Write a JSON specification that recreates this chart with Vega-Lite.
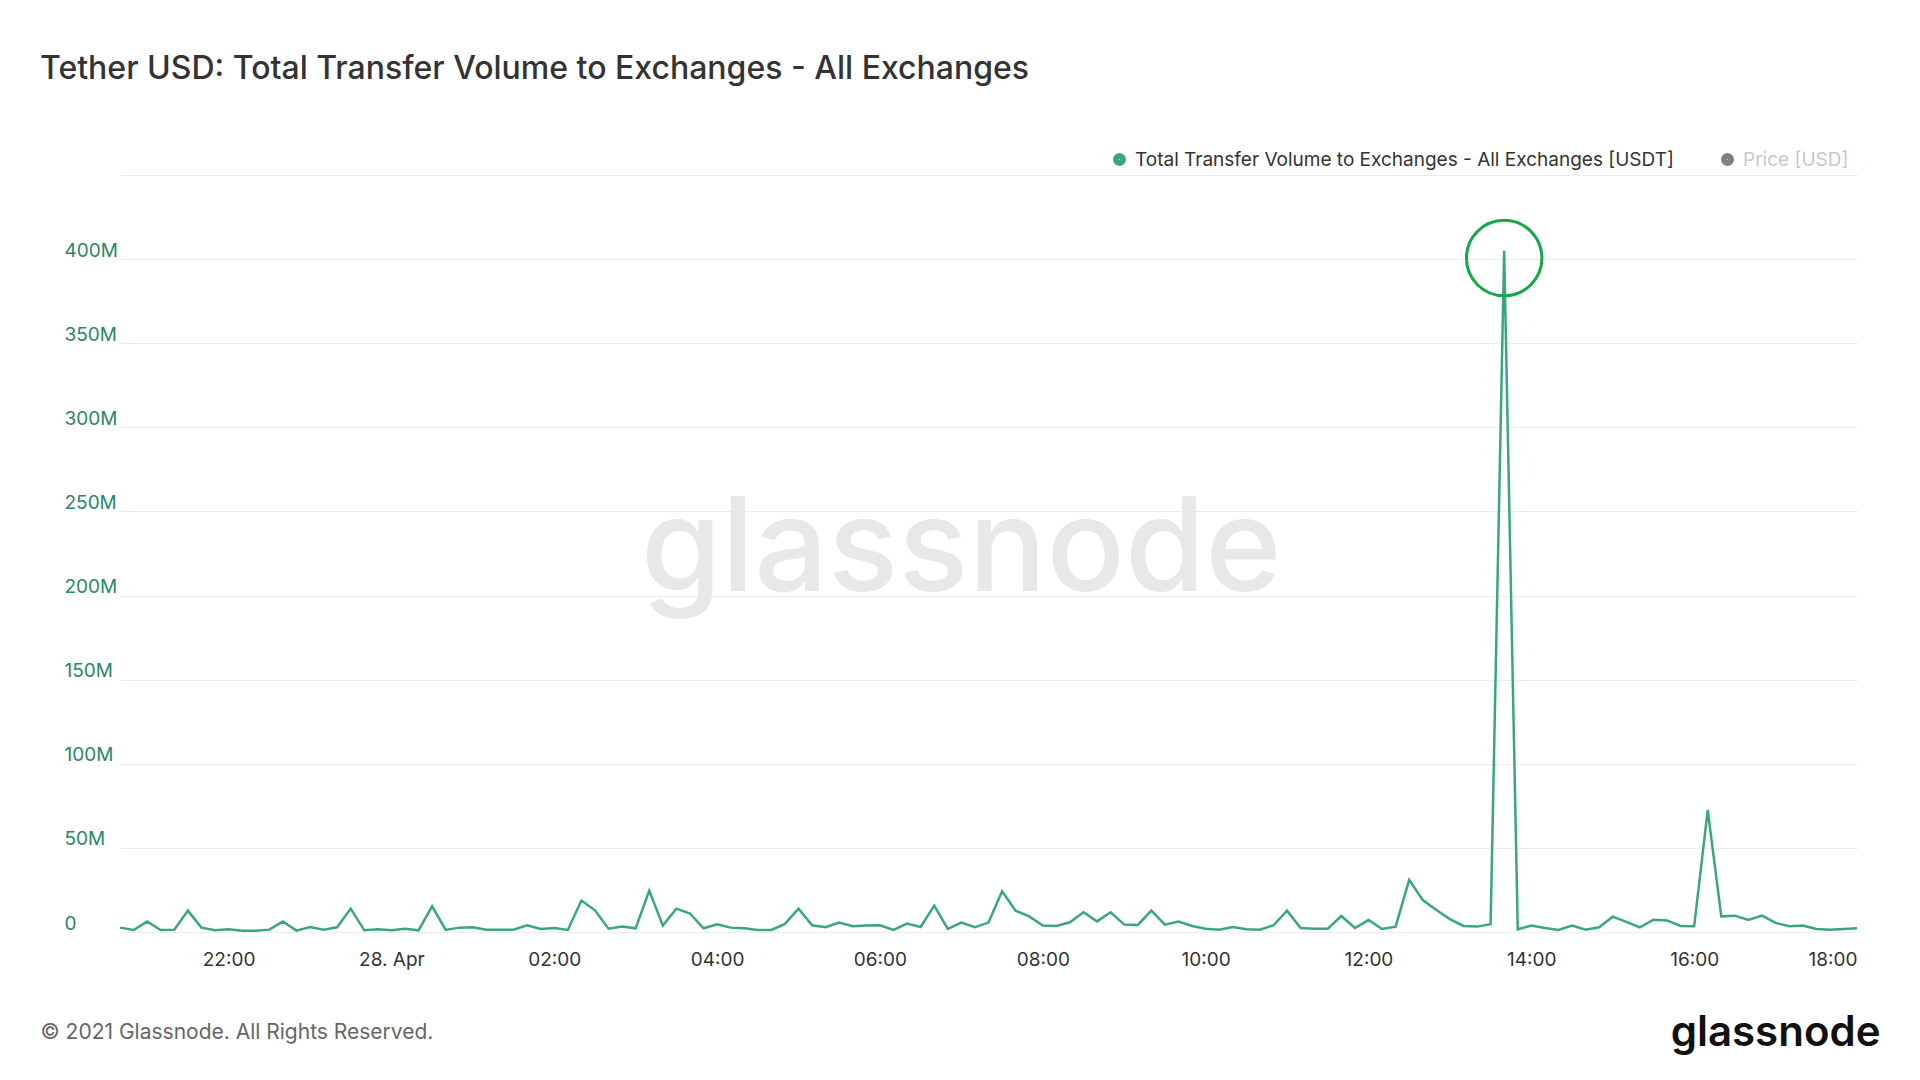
{
  "$schema": "https://vega.github.io/schema/vega-lite/v6.json",
  "autosize": {"type": "none"},
  "width": 1737,
  "height": 757,
  "padding": {"left": 120, "top": 175, "right": 63, "bottom": 148},
  "background": "white",
  "config": {
    "view": {"stroke": null},
    "font": "Inter"
  },
  "title": {
    "text": "Tether USD: Total Transfer Volume to Exchanges - All Exchanges",
    "anchor": "start",
    "frame": "group",
    "dx": -80,
    "offset": 64,
    "font": "Inter",
    "fontSize": 32,
    "fontWeight": 500,
    "color": "#333333"
  },
  "encoding": {
    "x": {
      "field": "t",
      "type": "temporal",
      "scale": {
        "domain": [
          {"year": 2021, "month": 4, "date": 27, "hours": 20, "minutes": 40},
          {"year": 2021, "month": 4, "date": 28, "hours": 18, "minutes": 0}
        ],
        "nice": false
      },
      "axis": {
        "title": "© 2021 Glassnode. All Rights Reserved.",
        "titleX": -80,
        "titleY": 100,
        "titleAlign": "left",
        "titleBaseline": "middle",
        "titleFont": "Inter",
        "titleFontSize": 21,
        "titleFontWeight": "normal",
        "titleColor": "#666666",
        "tickCount": 22,
        "labelExpr": "hours(datum.value) % 2 == 1 ? '' : (hours(datum.value) == 0 ? timeFormat(datum.value, '%d. %b') : timeFormat(datum.value, '%H:%M'))",
        "labelFlush": true,
        "labelFont": "Inter",
        "labelFontSize": 19,
        "labelColor": "#333333",
        "labelPadding": 18,
        "labelAngle": 0,
        "grid": false,
        "domain": false,
        "ticks": false
      }
    },
    "y": {
      "field": "v",
      "type": "quantitative",
      "scale": {"domain": [0, 450000000], "nice": false, "zero": true},
      "axis": {
        "title": "glassnode",
        "titleAngle": 0,
        "titleX": 1760,
        "titleY": 870,
        "titleAlign": "right",
        "titleBaseline": "alphabetic",
        "titleFont": "Inter",
        "titleFontSize": 42,
        "titleFontWeight": 600,
        "titleColor": "#111111",
        "values": [0, 50000000, 100000000, 150000000, 200000000, 250000000, 300000000, 350000000, 400000000, 450000000],
        "labelExpr": "datum.value >= 450000000 ? '' : format(datum.value, '~s')",
        "labelAlign": "left",
        "labelBaseline": "alphabetic",
        "labelOffset": -3,
        "labelPadding": 56,
        "labelFont": "Inter",
        "labelFontSize": 19,
        "labelColor": "#2b8567",
        "ticks": false,
        "domain": false,
        "grid": true,
        "gridColor": "#ececec",
        "gridWidth": 1
      }
    }
  },
  "layer": [
    {
      "data": {"values": [{"t": "2021-04-28T07:00:00", "v": 226000000, "label": "glassnode"}]},
      "mark": {"type": "text", "font": "Inter", "fontSize": 130, "fontWeight": 500, "color": "#e8e8e8", "align": "center", "baseline": "middle"},
      "encoding": {
        "text": {"field": "label", "type": "nominal"}
      }
    },
    {
      "data": {
        "values": [
          {"t": "2021-04-27T20:40:00", "v": 2600000},
          {"t": "2021-04-27T20:50:00", "v": 1200000},
          {"t": "2021-04-27T21:00:00", "v": 6200000},
          {"t": "2021-04-27T21:10:00", "v": 1200000},
          {"t": "2021-04-27T21:20:00", "v": 1400000},
          {"t": "2021-04-27T21:30:00", "v": 12700000},
          {"t": "2021-04-27T21:40:00", "v": 2600000},
          {"t": "2021-04-27T21:50:00", "v": 1000000},
          {"t": "2021-04-27T22:00:00", "v": 1600000},
          {"t": "2021-04-27T22:10:00", "v": 800000},
          {"t": "2021-04-27T22:20:00", "v": 800000},
          {"t": "2021-04-27T22:30:00", "v": 1400000},
          {"t": "2021-04-27T22:40:00", "v": 6200000},
          {"t": "2021-04-27T22:50:00", "v": 800000},
          {"t": "2021-04-27T23:00:00", "v": 3000000},
          {"t": "2021-04-27T23:10:00", "v": 1400000},
          {"t": "2021-04-27T23:20:00", "v": 2800000},
          {"t": "2021-04-27T23:30:00", "v": 13900000},
          {"t": "2021-04-27T23:40:00", "v": 1000000},
          {"t": "2021-04-27T23:50:00", "v": 1600000},
          {"t": "2021-04-28T00:00:00", "v": 1000000},
          {"t": "2021-04-28T00:10:00", "v": 1900000},
          {"t": "2021-04-28T00:20:00", "v": 1000000},
          {"t": "2021-04-28T00:30:00", "v": 15300000},
          {"t": "2021-04-28T00:40:00", "v": 1200000},
          {"t": "2021-04-28T00:50:00", "v": 2600000},
          {"t": "2021-04-28T01:00:00", "v": 2800000},
          {"t": "2021-04-28T01:10:00", "v": 1400000},
          {"t": "2021-04-28T01:20:00", "v": 1400000},
          {"t": "2021-04-28T01:30:00", "v": 1400000},
          {"t": "2021-04-28T01:40:00", "v": 4000000},
          {"t": "2021-04-28T01:50:00", "v": 1800000},
          {"t": "2021-04-28T02:00:00", "v": 2400000},
          {"t": "2021-04-28T02:10:00", "v": 1200000},
          {"t": "2021-04-28T02:20:00", "v": 18700000},
          {"t": "2021-04-28T02:30:00", "v": 12900000},
          {"t": "2021-04-28T02:40:00", "v": 2000000},
          {"t": "2021-04-28T02:50:00", "v": 3200000},
          {"t": "2021-04-28T03:00:00", "v": 2200000},
          {"t": "2021-04-28T03:10:00", "v": 24600000},
          {"t": "2021-04-28T03:20:00", "v": 3800000},
          {"t": "2021-04-28T03:30:00", "v": 13900000},
          {"t": "2021-04-28T03:40:00", "v": 11000000},
          {"t": "2021-04-28T03:50:00", "v": 2200000},
          {"t": "2021-04-28T04:00:00", "v": 4600000},
          {"t": "2021-04-28T04:10:00", "v": 2600000},
          {"t": "2021-04-28T04:20:00", "v": 2200000},
          {"t": "2021-04-28T04:30:00", "v": 1200000},
          {"t": "2021-04-28T04:40:00", "v": 1200000},
          {"t": "2021-04-28T04:50:00", "v": 4800000},
          {"t": "2021-04-28T05:00:00", "v": 13900000},
          {"t": "2021-04-28T05:10:00", "v": 4000000},
          {"t": "2021-04-28T05:20:00", "v": 2800000},
          {"t": "2021-04-28T05:30:00", "v": 5600000},
          {"t": "2021-04-28T05:40:00", "v": 3400000},
          {"t": "2021-04-28T05:50:00", "v": 3800000},
          {"t": "2021-04-28T06:00:00", "v": 4000000},
          {"t": "2021-04-28T06:10:00", "v": 1200000},
          {"t": "2021-04-28T06:20:00", "v": 5000000},
          {"t": "2021-04-28T06:30:00", "v": 3000000},
          {"t": "2021-04-28T06:40:00", "v": 15700000},
          {"t": "2021-04-28T06:50:00", "v": 1800000},
          {"t": "2021-04-28T07:00:00", "v": 5600000},
          {"t": "2021-04-28T07:10:00", "v": 2800000},
          {"t": "2021-04-28T07:20:00", "v": 5600000},
          {"t": "2021-04-28T07:30:00", "v": 24200000},
          {"t": "2021-04-28T07:40:00", "v": 12700000},
          {"t": "2021-04-28T07:50:00", "v": 9300000},
          {"t": "2021-04-28T08:00:00", "v": 3800000},
          {"t": "2021-04-28T08:10:00", "v": 3600000},
          {"t": "2021-04-28T08:20:00", "v": 5800000},
          {"t": "2021-04-28T08:30:00", "v": 11700000},
          {"t": "2021-04-28T08:40:00", "v": 6300000},
          {"t": "2021-04-28T08:50:00", "v": 11700000},
          {"t": "2021-04-28T09:00:00", "v": 4400000},
          {"t": "2021-04-28T09:10:00", "v": 4200000},
          {"t": "2021-04-28T09:20:00", "v": 12700000},
          {"t": "2021-04-28T09:30:00", "v": 4400000},
          {"t": "2021-04-28T09:40:00", "v": 6200000},
          {"t": "2021-04-28T09:50:00", "v": 3600000},
          {"t": "2021-04-28T10:00:00", "v": 2000000},
          {"t": "2021-04-28T10:10:00", "v": 1400000},
          {"t": "2021-04-28T10:20:00", "v": 3000000},
          {"t": "2021-04-28T10:30:00", "v": 1600000},
          {"t": "2021-04-28T10:40:00", "v": 1400000},
          {"t": "2021-04-28T10:50:00", "v": 4000000},
          {"t": "2021-04-28T11:00:00", "v": 12700000},
          {"t": "2021-04-28T11:10:00", "v": 2400000},
          {"t": "2021-04-28T11:20:00", "v": 2000000},
          {"t": "2021-04-28T11:30:00", "v": 2000000},
          {"t": "2021-04-28T11:40:00", "v": 9500000},
          {"t": "2021-04-28T11:50:00", "v": 2400000},
          {"t": "2021-04-28T12:00:00", "v": 7100000},
          {"t": "2021-04-28T12:10:00", "v": 1800000},
          {"t": "2021-04-28T12:20:00", "v": 3200000},
          {"t": "2021-04-28T12:30:00", "v": 31000000},
          {"t": "2021-04-28T12:40:00", "v": 19000000},
          {"t": "2021-04-28T12:50:00", "v": 13100000},
          {"t": "2021-04-28T13:00:00", "v": 7700000},
          {"t": "2021-04-28T13:10:00", "v": 3600000},
          {"t": "2021-04-28T13:20:00", "v": 3200000},
          {"t": "2021-04-28T13:30:00", "v": 4600000},
          {"t": "2021-04-28T13:40:00", "v": 405000000},
          {"t": "2021-04-28T13:50:00", "v": 1600000},
          {"t": "2021-04-28T14:00:00", "v": 3800000},
          {"t": "2021-04-28T14:10:00", "v": 2400000},
          {"t": "2021-04-28T14:20:00", "v": 1200000},
          {"t": "2021-04-28T14:30:00", "v": 3800000},
          {"t": "2021-04-28T14:40:00", "v": 1400000},
          {"t": "2021-04-28T14:50:00", "v": 2800000},
          {"t": "2021-04-28T15:00:00", "v": 9100000},
          {"t": "2021-04-28T15:10:00", "v": 6000000},
          {"t": "2021-04-28T15:20:00", "v": 2800000},
          {"t": "2021-04-28T15:30:00", "v": 7300000},
          {"t": "2021-04-28T15:40:00", "v": 6900000},
          {"t": "2021-04-28T15:50:00", "v": 3600000},
          {"t": "2021-04-28T16:00:00", "v": 3400000},
          {"t": "2021-04-28T16:10:00", "v": 72400000},
          {"t": "2021-04-28T16:20:00", "v": 9300000},
          {"t": "2021-04-28T16:30:00", "v": 9700000},
          {"t": "2021-04-28T16:40:00", "v": 7100000},
          {"t": "2021-04-28T16:50:00", "v": 9700000},
          {"t": "2021-04-28T17:00:00", "v": 5400000},
          {"t": "2021-04-28T17:10:00", "v": 3400000},
          {"t": "2021-04-28T17:20:00", "v": 3800000},
          {"t": "2021-04-28T17:30:00", "v": 1800000},
          {"t": "2021-04-28T17:40:00", "v": 1400000},
          {"t": "2021-04-28T17:50:00", "v": 1800000},
          {"t": "2021-04-28T18:00:00", "v": 2200000}
        ]
      },
      "mark": {"type": "line", "strokeWidth": 2.5, "interpolate": "linear"},
      "encoding": {
        "color": {
          "datum": "Total Transfer Volume to Exchanges - All Exchanges [USDT]",
          "type": "nominal",
          "scale": {
            "domain": ["Total Transfer Volume to Exchanges - All Exchanges [USDT]", "Price [USD]"],
            "range": ["#3aa680", "#808080"]
          },
          "legend": {
            "title": null,
            "orient": "none",
            "legendX": 990,
            "legendY": -25,
            "direction": "horizontal",
            "symbolType": "circle",
            "symbolSize": 49,
            "symbolStrokeWidth": 6,
            "labelFont": "Inter",
            "labelFontSize": 19,
            "labelColor": "#333333",
            "labelOffset": 6,
            "labelLimit": 800,
            "columnPadding": 38,
            "encode": {
              "labels": {"update": {"fill": {"signal": "datum.label == 'Price [USD]' ? '#c8c8c8' : '#333333'"}}}
            }
          }
        }
      }
    },
    {
      "data": {"values": [{"t": "2021-04-28T13:40:00", "v": 400600000}]},
      "mark": {"type": "point", "shape": "circle", "filled": false, "size": 5700, "stroke": "#14a84a", "strokeWidth": 3, "opacity": 1}
    }
  ]
}
